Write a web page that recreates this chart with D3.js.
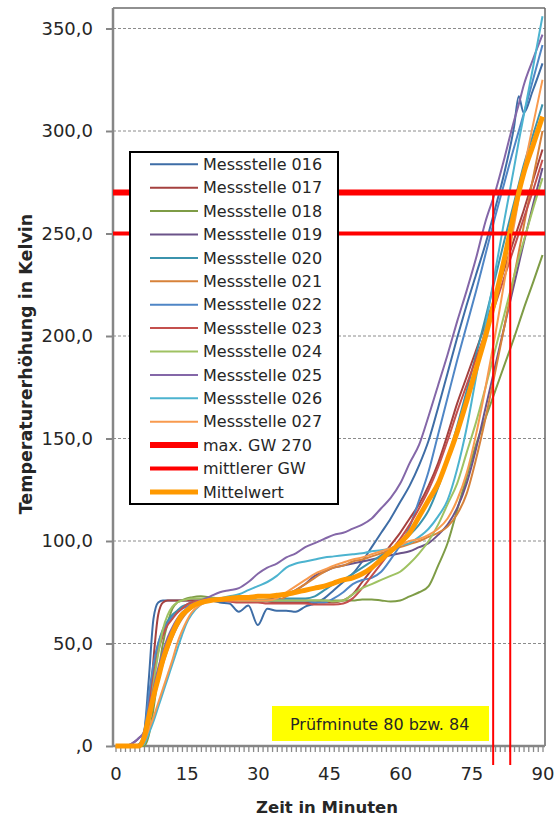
<!DOCTYPE html>
<html>
<head>
<meta charset="utf-8">
<script src="https://cdn.jsdelivr.net/npm/d3@7"></script>
<style>
  body { margin: 0; background: #fff; }
  text { font-family: "DejaVu Sans", sans-serif; fill: #262626; }
</style>
</head>
<body>
<div id="chart"></div>
<script>
/*global d3:true */

// messzeitpunkte (minuten) - gemeinsam fuer alle reihen
var minutes = [0,2,4,5,6,7,8,9,10,11,12,13,14,15,16,18,20,22,24,26,28,30,32,34,36,38,40,42,44,46,48,50,52,54,56,58,60,62,64,66,68,70,72,74,76,78,80,82,84,85,86,88,90];

// temperaturerhoehung in kelvin, je messstelle
var s016 = [0,0,0,1,6,32,62,70,71,71,71,71,71,71,71, 71,71,70,69.5,65.5,68.5,59,67,66,66,65.5,68,69.5,72,76,80,84,90,97,104,111,119,127,137,149,165,182,199,215,230,245,262,280,302, 317,309,320,333];
var s017 = [0,0,0,0,2,10,42,64,70,71,71,71,71,71,71, 71,71,71,71,71,70.5,70.5,70.5,70,70,70,70,70,70,70,71,74,80,86,92,98,104,111,118,127,138,152,167,180,193,206,219,233,247, 254,261,276,291];
var s018 = [0,0,0,0,0,5,18,35,50,60,67,70,71,72,72.5, 73,72.5,72,72,71.5,71.5,71,71,71,71,71,71,71,71,71,71,71,71.5,71.5,71,70.5,71,73,75,78,88,99,115,131,147,160,173,186,199, 206,213,226,239.5];
var s019 = [0,0,2,4,6,14,26,36,44,51,56,60,63,66,68, 70,71,71,71,71,71,71,71.5,72.5,74,76,79,83,85,87,88,89,90,91,92,93,94,95,97,99,103,108,116,128,145,165,185,205,225, 235,245,264,282];
var s020 = [0,0,0,0,5,22,38,50,57,61,64,66,68,69,70, 71,71,71,71,71,71,71,71,71.5,72,72,72,73,76,79,81,84,87,90,93,96,99,103,108,115,126,140,156,173,191,209,228,247,265, 274,283,298,313];
var s021 = [0,0,0,0,3,12,22,32,40,47,53,58,62,65,67, 70,71,71,71,71,71,71,71,71,73,76,79,82,85,87,88,90,91,92.5,94,95.5,97,98.5,100,102,104,107,113,123,140,160,182,205,229, 241,253,277,300];
var s022 = [0,0,0,0,6,24,40,50,56,60,63,65,67,68,69, 70,71,71,71,71,71,71,71,71,71,71,71,70,70,72,75,79,81,82,85,91,98,107,120,134,152,170,188,205,222,240,258,275,292, 300,308,325,342];
var s023 = [0,0,0,0,4,18,34,46,54,59,62,65,67,69,70, 71,71,71,70.5,70,70,70,69.5,69.5,69.5,69.5,69.5,69,69,69,69.5,72,77,83,89,95,101,108,116,125,136,149,163,176,189,202,215,229,243, 250,257,271,286];
var s024 = [0,0,0,0,2,12,30,45,57,64,68,70,71,71.5,72, 72,72,72,71.5,71,71,71,71,71,71,71,71,71,71,70.5,71,74,77,79,81,83,85,89,94,100,108,118,128,143,158,175,193,211,229, 238,246,262,277];
var s025 = [0,0,2,4,7,17,28,38,46,53,58,62,65,67,69, 71,73,75,76,77,80,84,87,89,92,94,97,99,101,103,104,106,108,111,116,121,128,138,147,161,176,191,207,222,238,256,270,287,305, 313,322,335,347];
var s026 = [0,0,0,0,1,6,12,19,26,33,40,47,54,60,64, 69,71,72,73,74,76,78,80,83,87,89,90,91,92,92.5,93,93.5,94,95,95.5,96.5,98,99,102,106,112,120,135,155,180,205,231,257,282, 295,307,331,356];
var s027 = [0,0,0,0,2,8,14,21,28,35,42,50,56,61,65, 69,71,71,71,71,71,71,71,72,75,78,81,84,86,88,89.5,91,92,93.5,95,96.5,98,100,101,103,106,111,120,133,152,175,200,227,254, 267,280,303,325];
var mittelwert = [0,0,0,0,4,14,24,33,42,49,55,60,64,66,68, 70,71,71.5,72,72.5,72.5,73,73,73.5,74,75,76,77,78,79.5,81,82,84,87,91,95,99,104,112,120,128,140,153,168,184,200,218,238,260, 270,279,293,307];

// grenzwerte + pruefminuten
var maxGW = 270;
var mittlererGW = 250;
var pruefMinuten = [79.6, 83.2];
var pruefGW = [270, 250];
var pruefText = "Prüfminute 80 bzw. 84";

var seriesNames = ["Messstelle 016","Messstelle 017","Messstelle 018","Messstelle 019","Messstelle 020","Messstelle 021",
                   "Messstelle 022","Messstelle 023","Messstelle 024","Messstelle 025","Messstelle 026","Messstelle 027"];
var seriesValues = [s016,s017,s018,s019,s020,s021,s022,s023,s024,s025,s026,s027];
var seriesColors = ["#3e6da6","#a5413f","#7e9c46","#6b5389","#3b93ad","#d7823a",
                    "#4f86c6","#c4504d","#9fc262","#8467a8","#4cb3cf","#f89a4e"];

var yTicks = [0,50,100,150,200,250,300,350];
var xTicks = [0,15,30,45,60,75,90];

// groesse
var width = 560, height = 818;
var plot = {left: 113, right: 545, top: 8, bottom: 746};

var svg = d3.select("#chart").append("svg").attr("width", width).attr("height", height);

var x = d3.scaleLinear().domain([0, 90]).range([115.5, 542.5]);
var y = d3.scaleLinear().domain([0, 360]).range([plot.bottom, plot.top]);

function fmt(v){ return v === 0 ? ",0" : v.toFixed(1).replace(".", ","); }

// gitternetz
svg.append("g").selectAll("line")
    .data(yTicks.filter(function(d){ return d > 0; }))
    .enter().append("line")
    .attr("x1", plot.left).attr("x2", plot.right)
    .attr("y1", function(d){ return y(d); }).attr("y2", function(d){ return y(d); })
    .attr("stroke", "#8c8c8c").attr("stroke-width", 1).attr("stroke-dasharray", "3,2");

// rahmen oben + rechts
svg.append("line").attr("x1", plot.left).attr("x2", plot.right).attr("y1", plot.top).attr("y2", plot.top)
    .attr("stroke", "#222").attr("stroke-width", 1.2);
svg.append("line").attr("x1", plot.right).attr("x2", plot.right).attr("y1", plot.top).attr("y2", plot.bottom)
    .attr("stroke", "#666").attr("stroke-width", 1.5);

// y achse
var yAxis = d3.axisLeft(y).tickValues(yTicks).tickSize(7).tickPadding(13).tickFormat(fmt);
var gy = svg.append("g").attr("transform", "translate(" + plot.left + ",0)").call(yAxis);
gy.select(".domain").remove();
gy.selectAll("line").attr("stroke", "#868686").attr("stroke-width", 2);
gy.selectAll("text").style("font-size", "18px").attr("fill", "#333");

// x achse: kleine striche pro minute
var xMinor = d3.axisBottom(x).tickValues(d3.range(0, 91)).tickSize(6).tickFormat("");
var gxm = svg.append("g").attr("transform", "translate(0," + plot.bottom + ")").call(xMinor);
gxm.select(".domain").remove();
gxm.selectAll("line").attr("stroke", "#8a8a8a").attr("stroke-width", 1.3);

var xAxis = d3.axisBottom(x).tickValues(xTicks).tickSize(0).tickPadding(21);
var gx = svg.append("g").attr("transform", "translate(0," + plot.bottom + ")").call(xAxis);
gx.select(".domain").remove();
gx.selectAll("text").style("font-size", "18px").attr("fill", "#333");

// achsenlinien
svg.append("line").attr("x1", plot.left).attr("x2", plot.left).attr("y1", plot.top).attr("y2", plot.bottom + 1)
    .attr("stroke", "#868686").attr("stroke-width", 2.5);
svg.append("line").attr("x1", plot.left).attr("x2", plot.right).attr("y1", plot.bottom).attr("y2", plot.bottom)
    .attr("stroke", "#868686").attr("stroke-width", 2.5);

// achsentitel
svg.append("text")
    .attr("transform", "translate(31.5," + 364 + ") rotate(-90)")
    .attr("text-anchor", "middle")
    .style("font-size", "17.5px").style("font-weight", "bold")
    .attr("fill", "#111")
    .text("Temperaturerhöhung  in Kelvin");

svg.append("text")
    .attr("x", 327).attr("y", 813)
    .attr("text-anchor", "middle")
    .style("font-size", "16.5px").style("font-weight", "bold")
    .attr("fill", "#111")
    .text("Zeit in Minuten");

// gelbes feld
svg.append("rect").attr("x", 272).attr("y", 706).attr("width", 217).attr("height", 35).attr("fill", "#ffff00");
svg.append("text").attr("x", 290).attr("y", 724).attr("dy", "0.35em")
    .style("font-size", "16px").attr("fill", "#222").text(pruefText);

// linien
var line = d3.line()
    .x(function(d){ return x(d[0]); })
    .y(function(d){ return y(d[1]); })
    .curve(d3.curveMonotoneX);

var linesGroup = svg.append("g");

seriesValues.forEach(function(vals, i){
  linesGroup.append("path")
      .datum(minutes.map(function(m, j){ return [m, vals[j]]; }))
      .attr("fill", "none")
      .attr("stroke", seriesColors[i])
      .attr("stroke-width", 2)
      .attr("stroke-linejoin", "round")
      .attr("d", line);
});

// grenzwerte
svg.append("line").attr("x1", plot.left).attr("x2", plot.right).attr("y1", y(maxGW)).attr("y2", y(maxGW))
    .attr("stroke", "#ff0000").attr("stroke-width", 6);
svg.append("line").attr("x1", plot.left).attr("x2", plot.right).attr("y1", y(mittlererGW)).attr("y2", y(mittlererGW))
    .attr("stroke", "#ff0000").attr("stroke-width", 4);

// mittelwert
linesGroup = svg.append("g");
linesGroup.append("path")
    .datum(minutes.map(function(m, j){ return [m, mittelwert[j]]; }))
    .attr("fill", "none")
    .attr("stroke", "#ff9900")
    .attr("stroke-width", 5)
    .attr("stroke-linejoin", "round")
    .attr("d", line);

// senkrechte pruefminuten-linien
pruefMinuten.forEach(function(m, i){
  svg.append("line")
      .attr("x1", x(m)).attr("x2", x(m))
      .attr("y1", y(pruefGW[i])).attr("y2", 765)
      .attr("stroke", "#ff0000").attr("stroke-width", 2);
});

// legende
var legend = svg.append("g");
legend.append("rect").attr("x", 130).attr("y", 152).attr("width", 208).attr("height", 352)
    .attr("fill", "#fff").attr("stroke", "#000").attr("stroke-width", 2);

var legendItems = seriesNames.map(function(n, i){ return {name: n, color: seriesColors[i], w: 2}; });
legendItems.push({name: "max. GW 270", color: "#ff0000", w: 6});
legendItems.push({name: "mittlerer GW", color: "#ff0000", w: 4});
legendItems.push({name: "Mittelwert", color: "#ff9900", w: 5});

legendItems.forEach(function(d, i){
  var ly = 164.3 + i * 23.4;
  legend.append("line").attr("x1", 150).attr("x2", 198).attr("y1", ly).attr("y2", ly)
      .attr("stroke", d.color).attr("stroke-width", d.w);
  legend.append("text").attr("x", 203).attr("y", ly).attr("dy", "0.36em")
      .style("font-size", "16px").attr("fill", "#262626").text(d.name);
});
</script>
</body>
</html>
